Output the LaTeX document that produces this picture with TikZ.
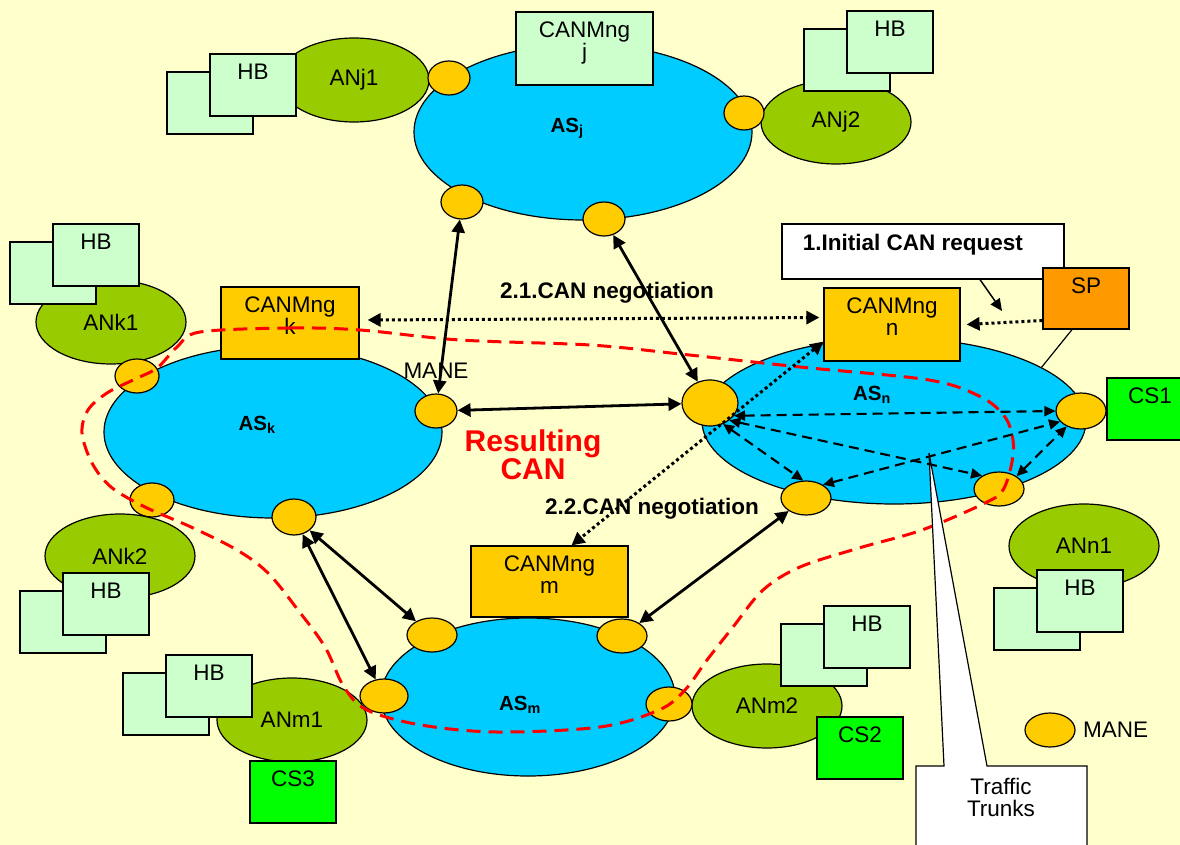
\documentclass[tikz,border=0pt]{standalone}
\usepackage{fontspec}
\setmainfont{Liberation Sans}
\usetikzlibrary{shapes, arrows.meta, positioning}
\definecolor{fondo}{HTML}{FFFFCC}
\definecolor{azulas}{HTML}{00CCFF}
\definecolor{verdean}{HTML}{99CC00}
\definecolor{verdehb}{HTML}{CCFFCC}
\definecolor{amarillo}{HTML}{FFCC00}
\definecolor{naranja}{HTML}{FF9900}
\definecolor{verdecs}{HTML}{00FF00}
\newcommand{\letra}{\fontsize{22.5}{22}\selectfont}
\newcommand{\letrab}{\fontsize{22.5}{24}\selectfont\bfseries}
\tikzstyle{autsys} = [ellipse, draw, line width=1.2pt, fill=azulas, inner sep=0pt]
\tikzstyle{accnet} = [ellipse, draw, line width=1.2pt, fill=verdean, minimum width=150pt, minimum height=84pt, inner sep=0pt]
\tikzstyle{mane} = [ellipse, draw, line width=1.2pt, fill=amarillo, minimum width=44pt, minimum height=34pt, inner sep=0pt]
\tikzstyle{plainbox} = [rectangle, draw, line width=1.2pt, minimum width=86pt, minimum height=62pt, inner sep=0pt]
\tikzstyle{canmng} = [plainbox, fill=amarillo]
\tikzstyle{hbback} = [plainbox, fill=verdehb]
\tikzset{toptext/.style={label={[anchor=north, yshift=-7pt, align=center]north:#1}}}
\tikzstyle{hbfront} = [plainbox, fill=verdehb, toptext=HB]
\tikzstyle{link} = [line width=2.8pt, >={Triangle[length=13pt,width=13pt]}, <->]
\tikzstyle{trunk} = [line width=2.1pt, dash pattern=on 10pt off 6pt, >={Triangle[length=11pt,width=10pt]}, <->]
\tikzstyle{negot} = [line width=3pt, dash pattern=on 3pt off 3pt, >={Triangle[length=13pt,width=13pt]}]
\tikzstyle{resultcan} = [red, line width=3pt, dash pattern=on 14pt off 8pt]
\begin{document}
\begin{tikzpicture}[x=1pt, y=-1pt, every node/.append style={font=\letra}]
\useasboundingbox (0,0) rectangle (1180,845);
\fill[fondo] (0,0) rectangle (1180,845);

% sistemas autonomos
\node[autsys, minimum width=338pt, minimum height=176pt] (asj) at (583,132) {};
\node[autsys, minimum width=338pt, minimum height=172pt] (ask) at (273,432) {};
\node[autsys, minimum width=384pt, minimum height=166pt] (asn) at (894,421) {};
\node[autsys, minimum width=294pt, minimum height=158pt] (asm) at (528,697) {};

% redes de acceso
\node[accnet] (anj1) at (354,80) {ANj1};
\node[accnet] (anj2) at (836,122) {ANj2};
\node[accnet] (ank1) at (111,322) {ANk1};
\node[accnet] (ank2) at (120,556) {ANk2};
\node[accnet] (anm1) at (292,720) {ANm1};
\node[accnet] (anm2) at (767,706) {ANm2};
\node[accnet] (ann1) at (1084,546) {ANn1};

\foreach \nm/\px/\py in {j1/210/103, j2/847/60, k1/53/273, k2/63/622, m1/166/704, m2/824/655, n1/1037/619}{
  \node[hbback] (hbb\nm) at (\px,\py) {};
  \node[hbfront] (hbf\nm) at ([shift={(43,-18)}]hbb\nm.center) {};
}

% gestores
\node[canmng, fill=verdehb, minimum width=137pt, minimum height=73pt, toptext={CANMng\\j}] (canj) at (584.5,48.5) {};
\node[canmng, minimum width=138pt, minimum height=72pt, toptext={CANMng\\k}] (cank) at (290,323) {};
\node[canmng, minimum width=136pt, minimum height=73pt, toptext={CANMng\\n}] (cann) at (892,324.5) {};
\node[canmng, minimum width=157pt, minimum height=71pt, toptext={CANMng\\m}] (canm) at (549.5,581.5) {};

\node[plainbox, fill=white, minimum width=282pt, minimum height=55pt,
  label={[anchor=north west, xshift=18pt, yshift=-7pt, font=\letrab]north west:1.Initial CAN request}] (req) at (923,251.5) {};
\node[plainbox, fill=naranja, minimum height=61pt, toptext=SP] (sp) at (1086,298.5) {};
\node[plainbox, fill=verdecs, toptext=CS1] (cs1) at (1150,409) {};
\node[plainbox, fill=verdecs, toptext=CS2] (cs2) at (860,748) {};
\node[plainbox, fill=verdecs, toptext=CS3] (cs3) at (293,792) {};

% MANEs
\node[mane, minimum width=42pt] (mj1) at (449,78) {};
\node[mane, minimum width=40pt] (mj2) at (744,113) {};
\node[mane, minimum width=42pt] (mj3) at (462,202) {};
\node[mane, minimum width=42pt] (mj4) at (604,219) {};
\node[mane] (mk1) at (137,376) {};
\node[mane, minimum width=42pt] (mk2) at (436,411) {};
\node[mane] (mk3) at (152,500) {};
\node[mane, minimum height=36pt] (mk4) at (294,517) {};
\node[mane, minimum width=56pt, minimum height=46pt] (mn1) at (710,403) {};
\node[mane, minimum width=50pt, minimum height=36pt] (mn2) at (1081,411) {};
\node[mane, minimum width=50pt] (mn3) at (806,498) {};
\node[mane, minimum width=50pt] (mn4) at (999,489) {};
\node[mane, minimum width=50pt] (mm1) at (432,635) {};
\node[mane, minimum width=48pt] (mm2) at (384,696) {};
\node[mane, minimum width=50pt] (mm3) at (622,636) {};
\node[mane, minimum width=46pt] (mm4) at (669,704) {};
\node[mane, minimum width=50pt] (legmane) at (1050,730) {};
\node[right=4pt of legmane] (legtxt) {MANE};

% CAN resultante
\draw[resultcan] plot[smooth cycle, tension=0.55] coordinates {
  (200,332) (290,328) (360,330) (460,340) (590,345) (680,354) (800,367) (929,380)
  (981,397) (1005,417) (1013,440) (1012,462) (1003,490) (985,503) (922,530) (859,548)
  (800,567) (763,590) (733,627) (707,660) (685,690) (659,710) (600,727) (497,732)
  (421,725) (367,710) (344,687) (325,647) (298,610) (268,573) (237,550) (191,527)
  (145,507) (111,487) (92,463) (82,433) (88,410) (107,393) (133,380) (157,368) (177,347)};

% traffic trunks
\draw[line width=1.2pt, fill=white] (916,848) -- (916,766) -- (944,766) -- (929,453)
  -- (987,766) -- (1087,766) -- (1087,848);
\node[align=center] (ttxt) at (1001,797) {Traffic\\Trunks};
\draw[trunk] (mn1.-28) -- (mn2.west);
\draw[trunk] (mn1.-42) -- (mn4.142);
\draw[trunk] (mn1.-58) -- (mn3.99);
\draw[trunk] (mn3.38) -- (mn2.207);
\draw[trunk] (mn4.36) -- (mn2.227);

% enlaces entre dominios
\draw[link] (mj3) -- (mk2);
\draw[link] (mj4) -- (mn1);
\draw[link] (mk2) -- (mn1);
\draw[link] (mk4) -- (mm1);
\draw[link] (mk4) -- (mm2);
\draw[link] (mn3) -- (mm3);

% negociacion
\draw[negot, <->] ([xshift=8pt,yshift=3pt]cank.east) -- ([xshift=-4pt,yshift=7pt]cann.west);
\draw[negot, <->] ([yshift=20pt]cann.south west) -- ([xshift=22pt]canm.north);
\draw[negot, ->] ([yshift=-22pt]sp.west) -- ([xshift=6pt]cann.east);
\coordinate (reqtip) at (1002,311);
\draw[line width=1.5pt, -{Triangle[length=12pt,width=11pt]}] ([xshift=57pt]req.south) -- (reqtip);
\draw[line width=1.2pt] ([xshift=-14pt]sp.south) -- (asn.20);

% rotulos
\node[font=\fontsize{20.5}{22}\selectfont\bfseries] (asjtxt) at (567,128) {AS\textsubscript{j}};
\node[font=\fontsize{20.5}{22}\selectfont\bfseries] (asktxt) at (257,425) {AS\textsubscript{k}};
\node[font=\fontsize{20.5}{22}\selectfont\bfseries] (asntxt) at (872,395) {AS\textsubscript{n}};
\node[font=\fontsize{20.5}{22}\selectfont\bfseries] (asmtxt) at (520,705) {AS\textsubscript{m}};
\node[above=11pt of mk2] (manelbl) {MANE};
\node[font=\letrab] (neg21) at (607,293) {2.1.CAN negotiation};
\node[font=\letrab] (neg22) at (652,509) {2.2.CAN negotiation};
\node[font=\fontsize{30}{28}\selectfont\bfseries, text=red, align=center] (rescan) at (533,455) {Resulting\\CAN};
\end{tikzpicture}
\end{document}
